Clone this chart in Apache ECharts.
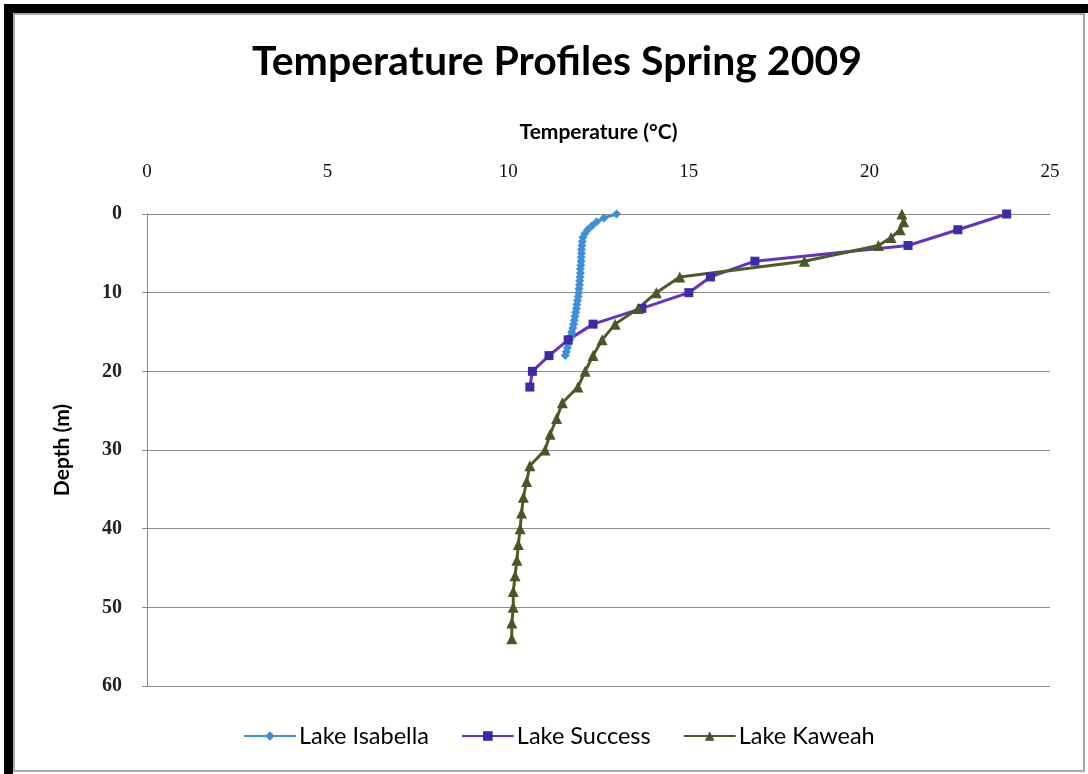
<!DOCTYPE html>
<html>
<head>
<meta charset="utf-8">
<script src="https://cdn.jsdelivr.net/npm/echarts@6/dist/echarts.min.js"></script>
<style>
  html, body { margin: 0; padding: 0; background: #fff; }
  #chart { position: absolute; left: 0; top: 0; width: 1088px; height: 774px; }
  .frame { position: absolute; pointer-events: none; }
</style>
</head>
<body>
<div id="chart"></div>
<div class="frame" style="left:4px;top:4px;width:1084px;height:9px;background:#000;"></div>
<div class="frame" style="left:4px;top:4px;width:9px;height:770px;background:#000;"></div>
<div class="frame" style="left:13px;top:13px;width:1068px;height:755px;border:2px solid #a8a8a8;"></div>
<script>
// ---- data (temperature °C, depth m) ----
const isabellaDepth = [0, 0.5, 1, 1.5, 2, 2.5, 3, 3.5, 4, 4.5, 5, 5.5, 6, 6.5, 7, 7.5, 8, 8.5, 9, 9.5, 10, 10.5, 11, 11.5, 12, 12.5, 13, 13.5, 14, 14.5, 15, 15.5, 16, 16.5, 17, 17.5, 18];
const isabellaTemp  = [13.0, 12.65, 12.45, 12.32, 12.2, 12.12, 12.07, 12.05, 12.04, 12.03, 12.03, 12.02, 12.02, 12.01, 12.0, 12.0, 11.99, 11.98, 11.97, 11.96, 11.95, 11.94, 11.92, 11.9, 11.89, 11.87, 11.85, 11.83, 11.81, 11.79, 11.76, 11.73, 11.7, 11.67, 11.64, 11.61, 11.58];

const successDepth = [0, 2, 4, 6, 8, 10, 12, 14, 16, 18, 20, 22];
const successTemp  = [23.8, 22.45, 21.07, 16.83, 15.6, 15.0, 13.7, 12.35, 11.66, 11.13, 10.67, 10.6];

const kaweahDepth = [0, 1, 2, 3, 4, 6, 8, 10, 12, 14, 16, 18, 20, 22, 24, 26, 28, 30, 32, 34, 36, 38, 40, 42, 44, 46, 48, 50, 52, 54];
const kaweahTemp  = [20.9, 20.95, 20.85, 20.6, 20.25, 18.2, 14.75, 14.1, 13.6, 12.96, 12.6, 12.35, 12.13, 11.93, 11.5, 11.34, 11.16, 11.02, 10.6, 10.51, 10.42, 10.37, 10.33, 10.28, 10.24, 10.19, 10.14, 10.14, 10.1, 10.1];

const seriesNames = ['Lake Isabella', 'Lake Success', 'Lake Kaweah'];
const xTicks = [0, 5, 10, 15, 20, 25];
const yTicks = [0, 10, 20, 30, 40, 50, 60];

function pairs(t, d) { return t.map((v, i) => [v, d[i]]); }

const chart = echarts.init(document.getElementById('chart'), null, { renderer: 'canvas' });
const uiFont = 'Lato, "Open Sans", sans-serif';
const numFont = '"Liberation Serif", "DejaVu Serif", serif';

chart.setOption({
  animation: false,
  backgroundColor: '#fff',
  title: {
    text: 'Temperature Profiles Spring 2009',
    left: 552,
    top: 36,
    textAlign: 'center',
    textStyle: { fontFamily: uiFont, fontSize: 41, fontWeight: 'bold', color: '#000' }
  },
  grid: { left: 147, top: 214, right: 38, bottom: 88 },
  xAxis: {
    type: 'value',
    position: 'top',
    min: xTicks[0],
    max: xTicks[xTicks.length - 1],
    interval: 5,
    name: 'Temperature (°C)',
    nameLocation: 'middle',
    nameGap: 71,
    nameTextStyle: { fontFamily: uiFont, fontSize: 21, fontWeight: 'bold', color: '#000' },
    axisLine: { show: true, lineStyle: { color: '#8a8a8a', width: 1 } },
    axisTick: { show: false },
    splitLine: { show: false },
    axisLabel: { margin: 32, fontFamily: numFont, fontSize: 19, color: '#111' }
  },
  yAxis: {
    type: 'value',
    inverse: true,
    min: yTicks[0],
    max: yTicks[yTicks.length - 1],
    interval: 10,
    name: 'Depth (m)',
    nameLocation: 'middle',
    nameGap: 74,
    nameTextStyle: { fontFamily: uiFont, fontSize: 21, fontWeight: 'bold', color: '#000' },
    axisLine: { show: true, lineStyle: { color: '#8a8a8a', width: 1 } },
    axisTick: { show: true, inside: false, length: 5, lineStyle: { color: '#8a8a8a' } },
    splitLine: { show: true, lineStyle: { color: '#8c8c8c', width: 1 } },
    axisLabel: { margin: 25, fontFamily: numFont, fontSize: 20, fontWeight: 'bold', color: '#222' }
  },
  legend: {
    left: 238,
    top: 719,
    itemGap: 32,
    itemWidth: 52,
    itemHeight: 12,
    textStyle: { fontFamily: uiFont, fontSize: 23.5, color: '#000', padding: [0, 0, 0, -2] },
    data: seriesNames
  },
  series: [
    {
      name: seriesNames[0], type: 'line',
      data: pairs(isabellaTemp, isabellaDepth),
      symbol: 'diamond', symbolSize: 9,
      lineStyle: { color: '#3f8fd8', width: 3 },
      itemStyle: { color: '#3f8fd8' }
    },
    {
      name: seriesNames[1], type: 'line',
      data: pairs(successTemp, successDepth),
      symbol: 'rect', symbolSize: 9,
      lineStyle: { color: '#6a30c0', width: 3 },
      itemStyle: { color: '#3c2aa8' }
    },
    {
      name: seriesNames[2], type: 'line',
      data: pairs(kaweahTemp, kaweahDepth),
      symbol: 'triangle', symbolSize: 11,
      lineStyle: { color: '#4f5a28', width: 3 },
      itemStyle: { color: '#4a5626' }
    }
  ]
});
</script>
</body>
</html>
